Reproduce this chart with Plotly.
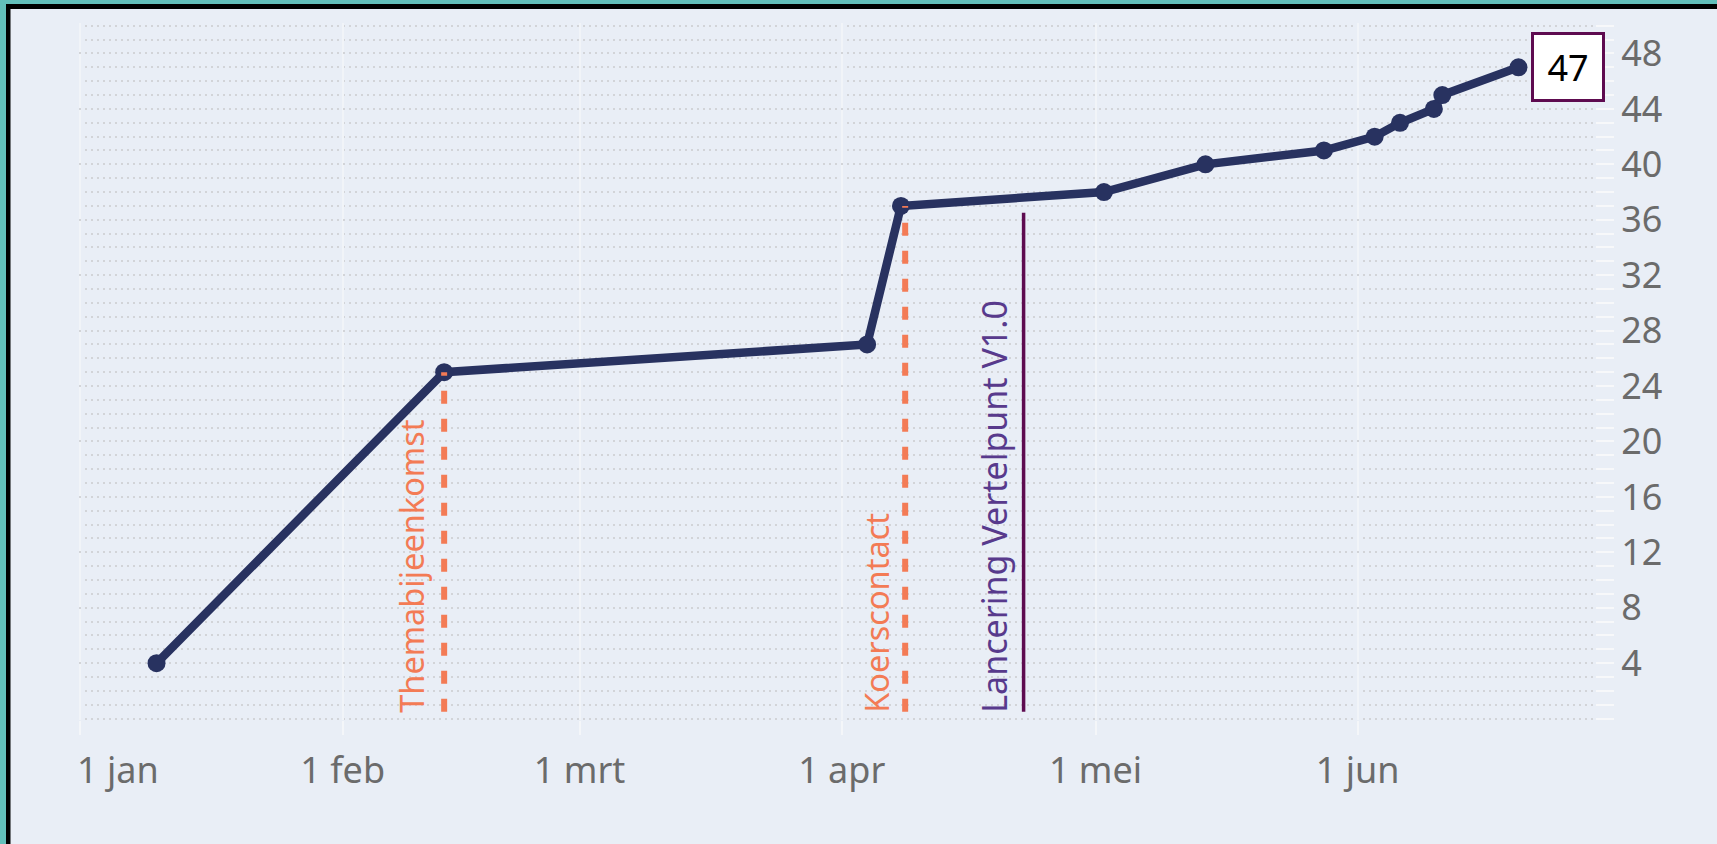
import plotly.graph_objects as go

# ---------------- data ----------------
dates = ["2023-01-10", "2023-02-13", "2023-04-04", "2023-04-08", "2023-05-02",
         "2023-05-14", "2023-05-28", "2023-06-03", "2023-06-06", "2023-06-10",
         "2023-06-11", "2023-06-20"]
values = [4, 25, 27, 37, 38, 40, 41, 42, 43, 44, 45, 47]

event_names = ["Themabijeenkomst", "Koerscontact", "Lancering Vertelpunt V1.0"]
event_dates = ["2023-02-13", "2023-04-08 12:00", "2023-04-22 12:00"]
event_tops = [25, 37, 36.5]
event_base = 0.5

x_tickvals = ["2023-01-01", "2023-02-01", "2023-03-01", "2023-04-01", "2023-05-01", "2023-06-01"]
x_ticktext = ["\u00a0" * 8 + "1 jan", "1 feb", "1 mrt", "1 apr", "1 mei", "1 jun"]
y_tickvals = [4, 8, 12, 16, 20, 24, 28, 32, 36, 40, 44, 48]

# ---------------- style ----------------
W, H = 1717, 844
ML, MR, MT, MB = 79, 122, 23, 124
BG = "#E9EEF6"
NAVY = "#283260"
ORANGE = "#F37B55"
PLUM = "#5E0B50"
PURPLE = "#583A8C"
TEAL = "#63BFBA"
TICKFONT = dict(family="Noto Sans", size=36, color="#6B6B6B")
ANNFONT = "Noto Sans"
GRID = "#D2D4D8"

pw, ph = W - ML - MR, H - MT - MB


def px(x):
    return (x - ML) / pw


def py(y):
    return (H - MB - y) / ph


fig = go.Figure()

fig.add_trace(go.Scatter(
    x=dates, y=values, mode="lines+markers",
    line=dict(color=NAVY, width=8.5),
    marker=dict(color=NAVY, size=18),
    hoverinfo="x+y", showlegend=False,
))

event_styles = [
    dict(color=ORANGE, width=6, dash="13px,15px"),
    dict(color=ORANGE, width=6, dash="13px,15px"),
    dict(color=PLUM, width=3.5),
]
event_text_colors = [ORANGE, ORANGE, PURPLE]
event_text_sizes = [32.5, 32.5, 34]
event_text_shift = [-33, -29, -29]

for name, d, top, st, tc, fs, sh in zip(event_names, event_dates, event_tops, event_styles,
                                         event_text_colors, event_text_sizes, event_text_shift):
    fig.add_trace(go.Scatter(
        x=[d, d], y=[event_base, top], mode="lines",
        line=st, hoverinfo="skip", showlegend=False,
    ))
    fig.add_annotation(
        x=d, y=0, xref="x", yref="y", text=name, showarrow=False,
        textangle=-90, xanchor="center", yanchor="bottom",
        xshift=sh, yshift=4,
        font=dict(family=ANNFONT, size=fs, color=tc),
    )

# label of last value
fig.add_annotation(
    x=dates[-1], y=values[-1], xref="x", yref="y", text=str(values[-1]),
    showarrow=False, xanchor="left", yanchor="middle", xshift=13,
    font=dict(family=ANNFONT, size=36, color="#000000"),
    bgcolor="#FFFFFF", bordercolor=PLUM, borderwidth=3, borderpad=4,
    width=60, height=56,
)

# frame borders (teal + black) at the top and left edge
fig.add_shape(type="rect", xref="paper", yref="paper",
              x0=px(0), x1=px(W), y0=py(0), y1=py(4),
              fillcolor=TEAL, line_width=0, layer="above")
fig.add_shape(type="rect", xref="paper", yref="paper",
              x0=px(0), x1=px(6), y0=py(0), y1=py(H),
              fillcolor=TEAL, line_width=0, layer="above")
fig.add_shape(type="rect", xref="paper", yref="paper",
              x0=px(6), x1=px(W), y0=py(4), y1=py(9),
              fillcolor="#000000", line_width=0, layer="above")
fig.add_shape(type="rect", xref="paper", yref="paper",
              x0=px(6), x1=px(10.5), y0=py(4), y1=py(H),
              fillcolor="#000000", line_width=0, layer="above")

fig.update_layout(
    width=W, height=H,
    margin=dict(l=ML, r=MR, t=MT, b=MB, pad=0, autoexpand=False),
    paper_bgcolor=BG, plot_bgcolor=BG,
    showlegend=False,
    xaxis=dict(
        type="date", automargin=False,
        range=["2022-12-31 20:00", "2023-06-29 01:10"],
        tickmode="array", tickvals=x_tickvals, ticktext=x_ticktext,
        ticks="outside", ticklen=14, tickwidth=2, tickcolor="#F4F6F9",
        showgrid=True, gridcolor="#F1F4F8", gridwidth=1.5,
        zeroline=False, showline=False,
        tickfont=TICKFONT, ticklabelstandoff=5, ticklabeloverflow="allow",
    ),
    yaxis=dict(
        side="right", automargin=False,
        range=[-0.1, 50.2],
        tickmode="array", tickvals=y_tickvals,
        ticks="outside", ticklen=18, tickwidth=2, tickcolor="#F7F8FA",
        showgrid=True, gridcolor=GRID, gridwidth=2, griddash="2px,4px",
        minor=dict(dtick=1, tick0=0, ticks="outside", ticklen=18, tickwidth=2,
                   tickcolor="#F7F8FA", showgrid=True, gridcolor=GRID,
                   gridwidth=2, griddash="2px,4px"),
        zeroline=False, showline=False,
        tickfont=TICKFONT, ticklabeloverflow="allow",
    ),
)

fig.write_html("out.html", config={"displayModeBar": False},
               post_script="document.body.style.margin='0px';")
